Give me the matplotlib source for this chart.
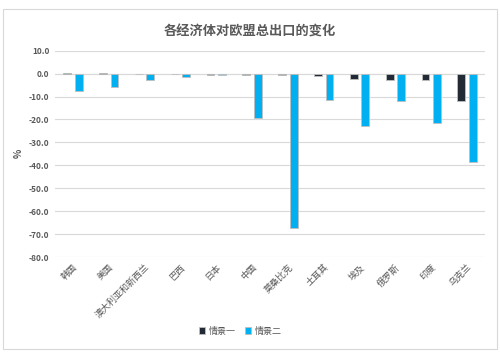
import matplotlib.pyplot as plt
import numpy as np
from matplotlib.patches import Rectangle

plt.rcParams['font.family'] = ['Noto Sans CJK SC', 'DejaVu Sans']

countries = ['韩国', '美国', '澳大利亚和新西兰', '巴西', '日本', '中国',
             '莫桑比克', '土耳其', '埃及', '俄罗斯', '印度', '乌克兰']
scenario1 = [0.3, 0.2, -0.3, -0.3, -0.5, -0.5, -0.5, -1.0, -2.5, -2.8, -3.0, -11.8]
scenario2 = [-7.4, -5.7, -3.0, -1.5, -0.8, -19.2, -67.3, -11.3, -23.0, -12.0, -21.7, -38.5]
yticks = [10, 0, -10, -20, -30, -40, -50, -60, -70, -80]

fig = plt.figure(figsize=(5, 3.62), dpi=100)
ax = fig.add_axes([0.11, 0.29, 0.86, 0.57])

x = np.arange(len(countries))
w = 0.22
ax.bar(x - 0.16, scenario1, w, color='#222a35', edgecolor='#bfbfbf', linewidth=0.6, label='情景一', zorder=3)
ax.bar(x + 0.16, scenario2, w, color='#00b0f0', edgecolor='#bfbfbf', linewidth=0.6, label='情景二', zorder=3)

ax.set_ylim(-80, 10)
ax.set_xlim(-0.5, len(countries) - 0.5)
ax.set_yticks(yticks)
ax.set_yticklabels(['%.1f' % v for v in yticks], fontsize=6, color='#595959', fontweight='bold')
ax.grid(axis='y', color='#d9d9d9', linewidth=0.8, zorder=0)
ax.axhline(0, color='#d9d9d9', linewidth=0.8, zorder=1)
ax.set_xticks(x)
ax.set_xticklabels(countries, rotation=45, ha='right', va='top', fontsize=6.5, color='#595959',
                   rotation_mode='anchor')
ax.tick_params(length=0, pad=4)
for s in ax.spines.values():
    s.set_visible(False)
ax.set_ylabel('%', fontsize=7, color='#595959', fontweight='bold')

fig.text(0.5, 0.912, '各经济体对欧盟总出口的变化', ha='center', va='center', fontsize=9.5,
         color='#595959', fontweight='bold')
fig.legend(loc='center', bbox_to_anchor=(0.48, 0.085), ncol=2, frameon=False, fontsize=6.5,
           handlelength=0.7, handleheight=0.7, columnspacing=1.0, handletextpad=0.4,
           labelcolor='#595959')

fig.patches.append(Rectangle((0.006, 0.035), 0.988, 0.94, transform=fig.transFigure,
                             fill=False, edgecolor='#d9d9d9', linewidth=0.8))

fig.savefig('out.png', dpi=100)
